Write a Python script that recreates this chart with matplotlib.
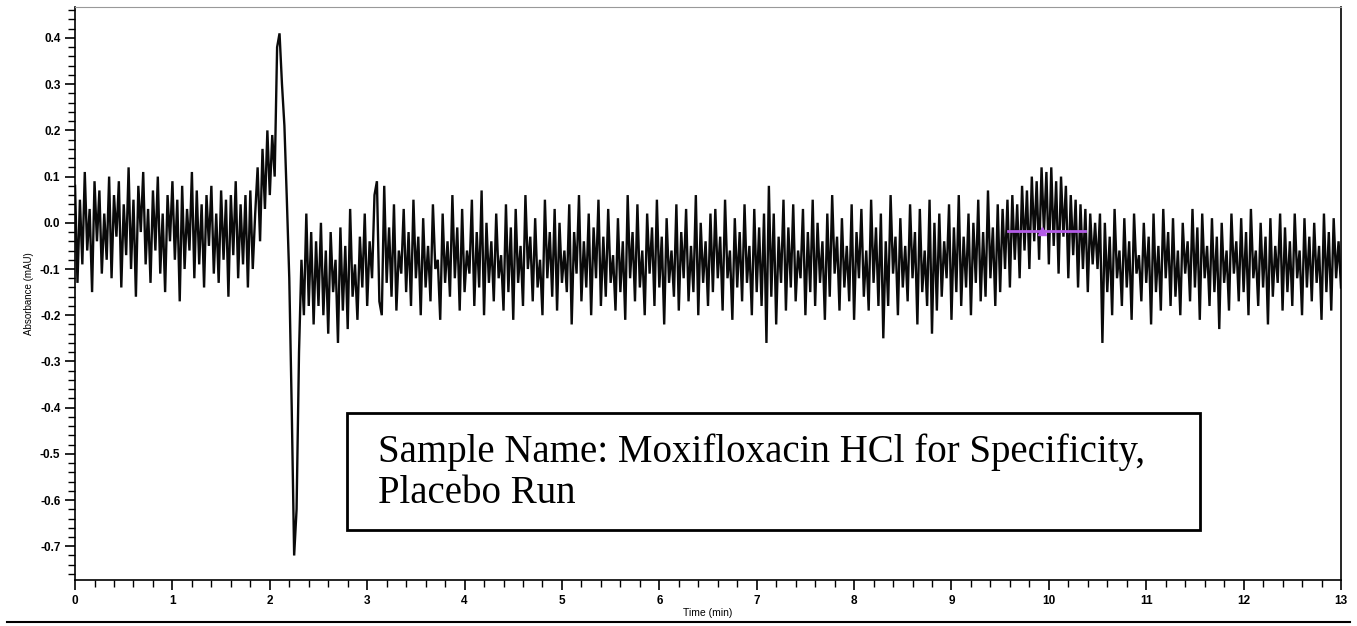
import numpy as np
import matplotlib
matplotlib.use("Agg")
import matplotlib.pyplot as plt
from matplotlib.patches import Rectangle
from matplotlib.lines import Line2D
from matplotlib.ticker import MultipleLocator, FormatStrFormatter

plt.rcParams['axes.unicode_minus'] = False

# sampling step of the trace (min), values below are in units of 0.01 mAU
step = 0.025

# 0 - 1.825 min, baseline noise
base_a_start = 0.0
base_a = [8,-13,5,-9,11,-6,3,-15,9,-4,7,-11,2,-8,10,-12,6,-3,9,-14,
          4,-7,12,-10,5,-16,8,-2,11,-9,3,-13,7,-6,10,-11,2,-15,6,-4,
          9,-8,5,-17,8,-10,3,-6,11,-12,7,-9,4,-14,6,-5,8,-11,2,-13,
          7,-8,5,-16,6,-7,9,-12,4,-9,6,-14,7,-10]

# 1.85 - 2.425 min, solvent front (peak + dip)
front_start = 1.85
front = [2,12,-4,16,3,20,6,19,10,38,41,30,21,5,-12,-40,-72,-62,-28,-8,-20,2,-18,-2]

# 2.45 - 9.475 min, baseline noise
base_b_start = 2.45
base_b = [-22,-4,-18,0,-20,-6,-24,-2,-15,-8,-26,-1,-19,-5,-23,3,-16,-9,-21,-3,
          -14,2,-18,-4,-12,6,9,-17,-20,8,-13,-1,-16,4,-19,-6,-11,3,-15,-2,
          -18,5,-12,-3,-20,1,-14,-5,-17,4,-10,-8,-21,2,-13,-4,-16,6,-12,-1,
          -19,3,-15,-6,-11,5,-18,-2,-14,7,-20,0,-13,-4,-17,2,-12,-7,-19,4,
          -15,-1,-21,3,-13,-5,-18,6,-10,-3,-17,1,-14,-8,-20,5,-12,-2,-16,3,
          -19,0,-13,-6,-15,4,-22,-2,-11,6,-17,-4,-14,2,-20,-1,-12,5,-18,-3,
          -16,3,-13,-7,-19,1,-15,-4,-21,6,-12,-2,-17,4,-14,-6,-20,2,-11,-1,
          -18,5,-14,-3,-22,1,-13,-6,-16,4,-19,-2,-12,3,-17,-5,-15,6,-20,0,
          -13,-4,-18,2,-15,3,-12,-3,-19,5,-12,-6,-21,1,-14,-2,-17,4,-13,-5,
          -20,3,-15,-1,-18,2,-26,8,-16,2,-22,-3,-13,5,-19,-1,-14,4,-17,-6,
          -12,3,-20,-2,-15,5,-18,0,-13,-4,-21,2,-16,6,-11,-3,-19,1,-14,-5,
          -17,4,-21,-2,-12,3,-16,-6,-19,5,-13,-1,-18,2,-25,-4,-18,6,-11,-3,
          -20,1,-14,-5,-17,4,-12,-2,-22,3,-15,-6,-18,5,-24,0,-19,2,-16,-4,
          -12,4,-21,-1,-15,6,-18,-3,-14,2,-20,0,-13,5,-17,-2,-16,7,-12,-1,
          -18,4]

# 9.5 - 10.475 min, small bump
bump_start = 9.5
bump = [-15,3,-10,5,-14,6,-8,4,-12,8,-6,7,-10,10,-4,9,-8,12,-2,11,
        -9,12,-5,9,-11,10,-3,8,-12,6,-7,5,-14,4,-10,3,-15,2,-9,0]

# 10.5 - 13.0 min, baseline noise
base_c_start = 10.5
base_c = [-10,2,-26,0,-15,-3,-20,3,-12,-6,-18,1,-14,-4,-21,2,-11,-7,-17,0,
          -13,-3,-22,2,-15,-5,-19,3,-12,-2,-18,1,-16,-6,-20,0,-11,-4,-17,3,
          -14,-1,-21,2,-12,-5,-18,1,-15,-3,-23,0,-13,-6,-19,2,-11,-4,-17,1,
          -15,-2,-20,3,-12,-6,-18,0,-14,-3,-22,1,-16,-5,-13,2,-19,-1,-15,-4,
          -18,2,-12,-6,-20,1,-14,-3,-17,0,-13,-5,-21,2,-15,-2,-19,1,-12,-4,
          -14]

# integration marker near 9.9 min
mark_from, mark_to, mark_level, mark_apex = 9.58, 10.37, -0.017, 9.93

segments = [(base_a_start, base_a), (front_start, front), (base_b_start, base_b),
            (bump_start, bump), (base_c_start, base_c)]
t = np.concatenate([s + step * np.arange(len(v)) for s, v in segments])
y = np.concatenate([np.array(v) / 100.0 for s, v in segments])

fig = plt.figure(figsize=(13.57, 6.26), dpi=100)
ax = fig.add_axes([0.0553, 0.0735, 0.9329, 0.9153])

ax.plot(t, y, color='#0a0a0a', lw=1.7, solid_joinstyle='miter')
ax.plot([mark_from, mark_to], [mark_level, mark_level], color='#b35ce6', lw=2)
ax.plot([mark_apex], [mark_level], marker='^', color='#b35ce6', ms=6)

ax.set_xlim(0, 13)
ax.set_ylim(-0.773, 0.467)
ax.xaxis.set_major_locator(MultipleLocator(1))
ax.xaxis.set_minor_locator(MultipleLocator(0.2))
ax.yaxis.set_major_locator(MultipleLocator(0.1))
ax.yaxis.set_minor_locator(MultipleLocator(0.02))
ax.yaxis.set_major_formatter(FormatStrFormatter('%.1f'))
ax.tick_params(which='major', direction='out', length=7, width=1.2, labelsize=8.5)
ax.tick_params(which='minor', direction='out', length=5, width=1.0)
for lab in ax.get_xticklabels() + ax.get_yticklabels():
    lab.set_fontweight('bold')
    lab.set_family('Liberation Sans')

ax.spines['top'].set_color('#999999')
ax.spines['left'].set_linewidth(1.2)
ax.spines['bottom'].set_linewidth(1.2)
ax.spines['right'].set_linewidth(1.2)

ax.set_xlabel('Time (min)', fontsize=7.5, family='Liberation Sans', labelpad=1)
ax.set_ylabel('Absorbance (mAU)', fontsize=7, family='Liberation Sans', labelpad=4)

# sample name box
fig.patches.append(Rectangle((0.2557, 0.1534), 0.6286, 0.1869, transform=fig.transFigure,
                             fill=False, edgecolor='black', lw=2))
fig.text(0.2786, 0.2444, 'Sample Name: Moxifloxacin HCl for Specificity,\nPlacebo Run',
         fontsize=28, family='Liberation Serif', va='center', ha='left', linespacing=1.15)

# line under the chart
fig.add_artist(Line2D([0.005, 0.995], [0.0064, 0.0064], transform=fig.transFigure,
                      color='black', lw=1.5))

fig.savefig('out.png', dpi=100)
